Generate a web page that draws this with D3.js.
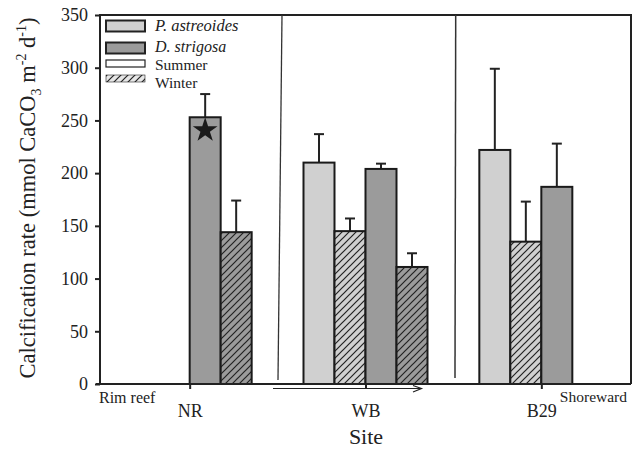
<!DOCTYPE html>
<html>
<head>
<meta charset="utf-8">
<script src="https://cdn.jsdelivr.net/npm/d3@7"></script>
<style>
  body { margin: 0; background: #fff; }
  svg { display: block; }
  text { font-family: "Liberation Serif", "Times New Roman", serif; fill: #222; }
</style>
</head>
<body>
<svg id="chart" width="638" height="452"></svg>
<script>
// Sites along the transect, from rim reef toward shore
const sites = ["NR", "WB", "B29"];
const seriesKeys = ["Pa-Summer", "Pa-Winter", "Ds-Summer", "Ds-Winter"];
// Mean calcification rates (null = not measured)
const paSummer = [null, 210, 222];
const paWinter = [null, 145, 135];
const dsSummer = [253, 204, 187];
const dsWinter = [144, 111, null];
// Upper error bar ends (mean + SE)
const paSummerErr = [null, 237, 299];
const paWinterErr = [null, 157, 173];
const dsSummerErr = [275, 209, 228];
const dsWinterErr = [174, 124, null];
const yTicks = [0, 50, 100, 150, 200, 250, 300, 350];

const svg = d3.select("#chart");
const m = { left: 100, right: 631, top: 15, bottom: 384 };

const x = d3.scalePoint().domain(sites).range([m.left, m.right]).padding(0.51);
const xOff = d3.scaleBand().domain(seriesKeys).range([-62, 62]).padding(0);
const y = d3.scaleLinear().domain([0, 350]).range([m.bottom, m.top]);

const fills = { Pa: "#d0d0d0", Ds: "#9b9b9b" };

// hatch patterns for winter bars
const defs = svg.append("defs");
function hatch(id, bg) {
  const p = defs.append("pattern").attr("id", id).attr("patternUnits", "userSpaceOnUse")
    .attr("width", 7).attr("height", 7);
  p.append("rect").attr("width", 7).attr("height", 7).attr("fill", bg);
  p.append("path").attr("d", "M-1,8 L8,-1 M-2,2 L2,-2 M5,9 L9,5")
    .attr("stroke", "#222").attr("stroke-width", 1.2);
}
hatch("hatchPa", fills.Pa);
hatch("hatchDs", fills.Ds);
hatch("hatchLeg", "#e6e6e6");

const rows = [];
sites.forEach((s, i) => {
  rows.push({ site: s, key: "Pa-Summer", sp: "Pa", v: paSummer[i], e: paSummerErr[i] });
  rows.push({ site: s, key: "Pa-Winter", sp: "Pa", v: paWinter[i], e: paWinterErr[i] });
  rows.push({ site: s, key: "Ds-Summer", sp: "Ds", v: dsSummer[i], e: dsSummerErr[i] });
  rows.push({ site: s, key: "Ds-Winter", sp: "Ds", v: dsWinter[i], e: dsWinterErr[i] });
});
const bars = rows.filter(d => d.v != null);

// error bars (drawn first, upward only)
const eb = svg.append("g").attr("stroke", "#222").attr("stroke-width", 2);
bars.filter(d => d.e != null).forEach(d => {
  const cx = x(d.site) + xOff(d.key) + xOff.bandwidth() / 2;
  eb.append("line").attr("x1", cx).attr("x2", cx).attr("y1", y(d.v)).attr("y2", y(d.e));
  eb.append("line").attr("x1", cx - 5).attr("x2", cx + 5).attr("y1", y(d.e)).attr("y2", y(d.e));
});

// bars
svg.append("g").selectAll("rect").data(bars).join("rect")
  .attr("x", d => x(d.site) + xOff(d.key))
  .attr("width", xOff.bandwidth())
  .attr("y", d => y(d.v))
  .attr("height", d => y(0) - y(d.v))
  .attr("fill", d => d.key.endsWith("Winter") ? `url(#hatch${d.sp})` : fills[d.sp])
  .attr("stroke", "#1a1a1a").attr("stroke-width", 2);

// star marking the highest rate
const starBar = bars.find(d => d.site === "NR" && d.key === "Ds-Summer");
svg.append("path")
  .attr("d", d3.symbol(d3.symbolStar, 190)())
  .attr("transform", `translate(${x(starBar.site) + xOff(starBar.key) + xOff.bandwidth() / 2},${y(starBar.v) + 13})`)
  .attr("fill", "#1a1a1a");

// frame
svg.append("path")
  .attr("d", `M${m.left},${m.bottom} V${m.top} H${m.right} V${m.bottom}`)
  .attr("fill", "none").attr("stroke", "#222").attr("stroke-width", 2);

// y axis
const yAxis = svg.append("g").attr("transform", `translate(${m.left},0)`)
  .call(d3.axisLeft(y).tickValues(yTicks).tickSize(5).tickPadding(7));
yAxis.select(".domain").remove();
yAxis.selectAll("line").attr("stroke", "#222").attr("stroke-width", 2);
yAxis.selectAll("text").attr("font-size", 18).style("font-family", "Liberation Serif, serif").attr("fill", "#222");

// x axis
const xAxis = svg.append("g").attr("transform", `translate(0,${m.bottom})`)
  .call(d3.axisBottom(x).tickSize(5).tickPadding(15));
xAxis.select(".domain").attr("d", `M${m.left - 4},0 H${m.right}`).attr("stroke", "#222").attr("stroke-width", 2);
xAxis.selectAll("line").attr("stroke", "#222").attr("stroke-width", 2);
xAxis.selectAll("text").attr("font-size", 18).style("font-family", "Liberation Serif, serif").attr("fill", "#222");

// site separators
svg.append("line").attr("x1", 278).attr("y1", 380).attr("x2", 282).attr("y2", m.top)
  .attr("stroke", "#333").attr("stroke-width", 1.3);
svg.append("line").attr("x1", 455).attr("y1", 378).attr("x2", 455.7).attr("y2", m.top)
  .attr("stroke", "#333").attr("stroke-width", 1.5);

// transect arrow
svg.append("path").attr("d", "M273,388.5 H421.5").attr("stroke", "#222").attr("stroke-width", 1.2).attr("fill", "none");
svg.append("path").attr("d", "M413,385.5 L421.5,388.5 L413,392").attr("stroke", "#222").attr("stroke-width", 1.2).attr("fill", "none");

// end labels
svg.append("text").attr("x", 99).attr("y", 403).attr("font-size", 16).text("Rim reef");
svg.append("text").attr("x", 627).attr("y", 402).attr("text-anchor", "end").attr("font-size", 15.5).text("Shoreward");

// axis titles
svg.append("text").attr("x", 366).attr("y", 444).attr("text-anchor", "middle").attr("font-size", 22).text("Site");
const yt = svg.append("text").attr("transform", "translate(35,198) rotate(-90)")
  .attr("text-anchor", "middle").attr("font-size", 22.5);
yt.append("tspan").text("Calcification rate (mmol CaCO");
yt.append("tspan").attr("font-size", 14).attr("dy", 6).text("3");
yt.append("tspan").attr("dy", -6).text(" m");
yt.append("tspan").attr("font-size", 14).attr("dy", -9).text("-2");
yt.append("tspan").attr("dy", 9).text(" d");
yt.append("tspan").attr("font-size", 14).attr("dy", -9).text("-1");
yt.append("tspan").attr("dy", 9).text(")");

// legend
const legend = [
  { label: "P. astreoides", fill: fills.Pa, italic: true, y0: 20.5, h: 11, sw: 2, size: 16.5, ty: 31 },
  { label: "D. strigosa", fill: fills.Ds, italic: true, y0: 42.5, h: 11, sw: 2, size: 16, ty: 52 },
  { label: "Summer", fill: "#fff", italic: false, y0: 60, h: 7, sw: 1.2, size: 15.5, ty: 70 },
  { label: "Winter", fill: "url(#hatchLeg)", italic: false, y0: 75, h: 7, sw: 0.6, size: 15.5, ty: 88 }
];
const lg = svg.append("g");
legend.forEach(d => {
  lg.append("rect").attr("x", 106).attr("y", d.y0).attr("width", 39).attr("height", d.h)
    .attr("fill", d.fill).attr("stroke", "#222").attr("stroke-width", d.sw);
  lg.append("text").attr("x", 155).attr("y", d.ty).attr("font-size", d.size)
    .attr("font-style", d.italic ? "italic" : null).text(d.label);
});
</script>
</body>
</html>
